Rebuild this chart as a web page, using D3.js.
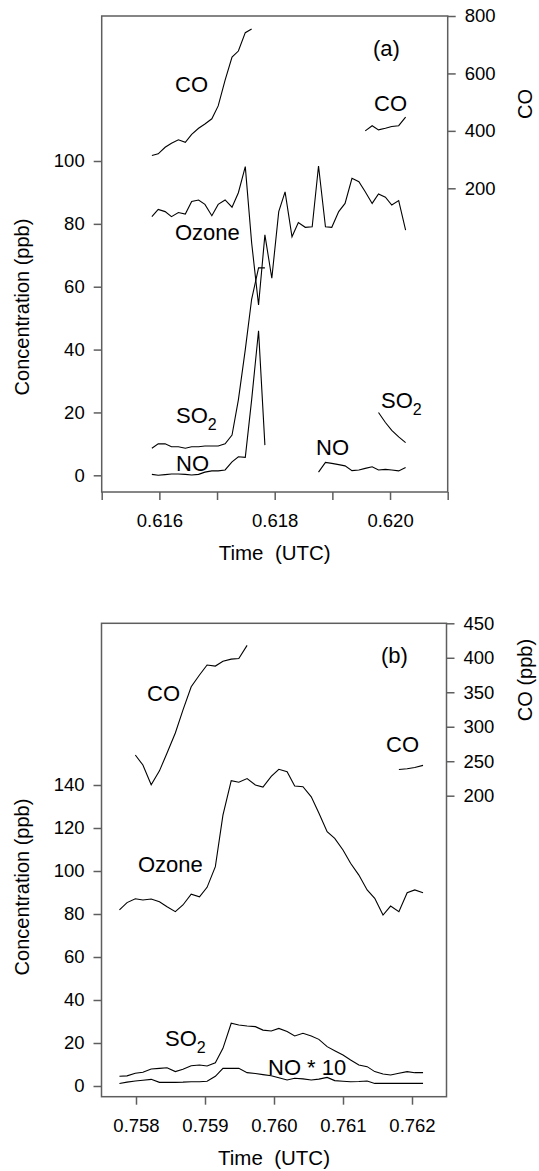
<!DOCTYPE html>
<html>
<head>
<meta charset="utf-8">
<script src="https://cdn.jsdelivr.net/npm/d3@7"></script>
<style>
  body { margin: 0; background: #fff; }
  text { font-family: 'Liberation Sans', Arial, sans-serif; fill: #000; }
</style>
</head>
<body>
<div id="chart"></div>
<script>
// ---- panel (a) data : time is fraction of day (UTC), one sample every 10 s
const timeA = [0.61587, 0.61598, 0.61610, 0.61621, 0.61633, 0.61645, 0.61656, 0.61668, 0.61679, 0.61691,
  0.61702, 0.61714, 0.61726, 0.61737, 0.61749, 0.61760, 0.61772, 0.61783, 0.61795, 0.61807,
  0.61818, 0.61830, 0.61841, 0.61853, 0.61865, 0.61876, 0.61888, 0.61899, 0.61911, 0.61922,
  0.61934, 0.61946, 0.61957, 0.61969, 0.61980, 0.61992, 0.62003, 0.62015, 0.62027];
const ozoneA = [82.3, 84.6, 83.9, 82.3, 83.6, 83.1, 87.1, 87.6, 86.2, 82.6,
  86.2, 87.6, 85.3, 89.9, 98.2, 74, 54.2, 76.5, 62.7, 83.9,
  90.2, 75.9, 80.4, 78.9, 79.1, 98.4, 79.1, 78.9, 83.9, 86.5,
  94.5, 93.4, 90.2, 86.5, 89.5, 88.5, 86, 87.4, 78];
const so2A = [8.6, 10, 10, 9.1, 9.1, 8.6, 9.1, 9.1, 9.3, 9.3,
  9.3, 10, 12.8, 24, 40, 56, 66, 66, null, null,
  null, null, null, null, null, null, null, null, null, null,
  null, null, null, null, 20, 16.8, 14.3, 12.2, 10.4];
const noA = [0.3, 0, 0.2, 0.4, 0.4, 0.3, 0.1, 0.3, 1.0, 1.4,
  1.4, 1.7, 4.3, 5.9, 5.7, 24, 46, 9.6, null, null,
  null, null, null, null, null, 1, 4.1, 3.8, 3.4, 3.0,
  1.5, 1.7, 2.2, 2.7, 1.7, 1.9, 1.7, 1.4, 2.5];
const coA = [314, 320, 343, 357, 369, 360, 388, 409, 424, 442,
  487, 577, 657, 678, 742, 755, null, null, null, null,
  null, null, null, null, null, null, null, null, null, null,
  null, null, 400, 418, 403.5, 409, 415, 418, 448];

// ---- panel (b) data
const timeB = [0.75776, 0.75787, 0.75799, 0.75810, 0.75822, 0.75834, 0.75845, 0.75857, 0.75868, 0.75880,
  0.75892, 0.75903, 0.75915, 0.75926, 0.75938, 0.75949, 0.75961, 0.75973, 0.75984, 0.75996,
  0.76007, 0.76019, 0.76030, 0.76042, 0.76054, 0.76065, 0.76077, 0.76088, 0.76100, 0.76111,
  0.76123, 0.76135, 0.76146, 0.76158, 0.76169, 0.76181, 0.76193, 0.76204, 0.76216];
const ozoneB = [81.9, 85.3, 87.1, 86.5, 87, 85.7, 83.4, 81.1, 84.2, 89.2,
  88, 92.4, 102, 126, 142, 141.3, 143, 140, 139, 144,
  147.3, 146.2, 139.5, 139.2, 134.5, 127, 118.3, 115.2, 109.8, 103.6,
  98.1, 91.2, 87.3, 79.5, 83.7, 81.1, 89.9, 91.2, 89.9];
const so2B = [4.5, 4.7, 5.9, 6.4, 7.9, 8.2, 8.5, 6.7, 7.8, 9.4,
  9.8, 9.3, 10.8, 17.5, 29.2, 28.4, 27.9, 27.6, 26, 25.6,
  26.8, 25.3, 23.3, 24.5, 23.3, 21.7, 18.3, 16.4, 14.4, 12.1,
  9.8, 9, 6.7, 5.6, 5.1, 5.9, 6.7, 6.2, 6.2];
const no10B = [1.2, 1.8, 2.3, 2.7, 3.1, 1.7, 1.7, 1.7, 1.8, 2,
  2, 2.2, 4.5, 8.2, 8.2, 8.2, 6.2, 5.8, 5.3, 4.8,
  3.8, 2.8, 3.6, 3.3, 2.8, 3.2, 4, 2.5, 2.2, 2,
  2.1, 2.3, 1.2, 1.2, 1.2, 1.2, 1.2, 1.2, 1.2];
const coB = [null, null, 259, 244.5, 216, 236, 262, 291, 324, 358,
  375, 389.5, 388, 395, 398, 399, 418, null, null, null,
  null, null, null, null, null, null, null, null, null, null,
  null, null, null, null, null, 238, 239, 241, 244];

// ---- ticks
const xTicksA = [0.615, 0.616, 0.617, 0.618, 0.619, 0.620, 0.621];
const xLabelsA = [0.616, 0.618, 0.620];
const yTicksA = [0, 20, 40, 60, 80, 100];
const coTicksA = [200, 400, 600, 800];
const xTicksB = [0.758, 0.759, 0.760, 0.761, 0.762];
const xLabelsB = [0.758, 0.759, 0.760, 0.761, 0.762];
const yTicksB = [0, 20, 40, 60, 80, 100, 120, 140];
const coTicksB = [200, 250, 300, 350, 400, 450];

const width = 539, height = 1171;
const axisColor = '#5e5e5e';

const svg = d3.select('#chart').append('svg')
  .attr('width', width)
  .attr('height', height);

svg.append('rect').attr('width', width).attr('height', height).attr('fill', '#fff');

function drawPanel(p) {
  const x = d3.scaleLinear().domain(p.xDomain).range([p.left, p.right]);
  const y = d3.scaleLinear().domain(p.yDomain).range(p.yRange);
  const yCO = d3.scaleLinear().domain(p.coDomain).range(p.coRange);

  const g = svg.append('g');

  // frame
  g.append('rect')
    .attr('x', p.left).attr('y', p.top)
    .attr('width', p.right - p.left).attr('height', p.bottom - p.top)
    .attr('fill', 'none').attr('stroke', axisColor).attr('stroke-width', 1.5);

  function styleAxis(a) {
    a.select('.domain').remove();
    a.selectAll('.tick line').attr('stroke', axisColor).attr('stroke-width', 1.5);
    a.selectAll('.tick text').attr('font-size', '18.5px').attr('fill', '#000');
  }

  g.append('g')
    .attr('transform', `translate(0,${p.bottom})`)
    .call(d3.axisBottom(x).tickValues(p.xTicks).tickSize(8).tickPadding(14)
      .tickFormat(d => p.xLabels.some(v => Math.abs(v - d) < 1e-9) ? d3.format('.3f')(d) : ''))
    .call(styleAxis)
    .attr('font-family', null);

  g.append('g')
    .attr('transform', `translate(${p.left},0)`)
    .call(d3.axisLeft(y).tickValues(p.yTicks).tickSize(8).tickPadding(9))
    .call(styleAxis)
    .attr('font-family', null);

  g.append('g')
    .attr('transform', `translate(${p.right},0)`)
    .call(d3.axisRight(yCO).tickValues(p.coTicks).tickSize(8).tickPadding(9))
    .call(styleAxis)
    .attr('font-family', null);

  // series
  const series = [
    { v: p.ozone, s: y },
    { v: p.so2, s: y },
    { v: p.no, s: y },
    { v: p.co, s: yCO }
  ];
  series.forEach(function (ser) {
    const line = d3.line()
      .defined(d => d[1] != null)
      .x(d => x(d[0]))
      .y(d => ser.s(d[1]));
    g.append('path')
      .datum(p.time.map((t, i) => [t, ser.v[i]]))
      .attr('d', line)
      .attr('fill', 'none')
      .attr('stroke', '#000')
      .attr('stroke-width', 1.1);
  });

  // labels
  p.labels.forEach(function (l) {
    const t = g.append('text')
      .attr('x', l[0]).attr('y', l[1])
      .attr('font-size', '22px');
    t.append('tspan').text(l[2]);
    if (l[3]) {
      t.append('tspan').attr('dy', 7).attr('font-size', '16px').text(l[3]);
    }
  });

  // axis titles
  g.append('text')
    .attr('transform', `translate(29,${p.yTitleY}) rotate(-90)`)
    .attr('text-anchor', 'middle')
    .attr('font-size', '20px')
    .text('Concentration (ppb)');

  g.append('text')
    .attr('transform', `translate(532,${p.coTitleY}) rotate(-90)`)
    .attr('text-anchor', 'middle')
    .attr('font-size', '20px')
    .text(p.coTitle);

  g.append('text')
    .attr('x', (p.left + p.right) / 2)
    .attr('y', p.bottom + 68)
    .attr('text-anchor', 'middle')
    .attr('font-size', '20.5px')
    .attr('xml:space', 'preserve')
    .style('white-space', 'pre')
    .text('Time  (UTC)');
}

drawPanel({
  left: 101.7, right: 447.7, top: 16, bottom: 492,
  xDomain: [0.615, 0.621], xTicks: xTicksA, xLabels: xLabelsA,
  yDomain: [0, 100], yRange: [475.3, 161], yTicks: yTicksA,
  coDomain: [200, 800], coRange: [188.3, 16], coTicks: coTicksA,
  time: timeA, ozone: ozoneA, so2: so2A, no: noA, co: coA,
  yTitleY: 307, coTitleY: 104, coTitle: 'CO',
  labels: [
    [175, 92, 'CO'], [373, 56, '(a)'], [374, 111, 'CO'], [175, 240, 'Ozone'],
    [176, 423, 'SO', '2'], [176, 471, 'NO'], [316, 455, 'NO'], [381, 408, 'SO', '2']
  ]
});

drawPanel({
  left: 101.5, right: 446.5, top: 623.3, bottom: 1096.7,
  xDomain: [0.7575, 0.7625], xTicks: xTicksB, xLabels: xLabelsB,
  yDomain: [0, 140], yRange: [1086, 785], yTicks: yTicksB,
  coDomain: [200, 450], coRange: [795.7, 623.3], coTicks: coTicksB,
  time: timeB, ozone: ozoneB, so2: so2B, no: no10B, co: coB,
  yTitleY: 887, coTitleY: 680, coTitle: 'CO (ppb)',
  labels: [
    [147, 701, 'CO'], [381, 663, '(b)'], [386, 752, 'CO'], [138, 872, 'Ozone'],
    [165, 1046, 'SO', '2'], [268, 1075, 'NO * 10']
  ]
});
</script>
</body>
</html>
